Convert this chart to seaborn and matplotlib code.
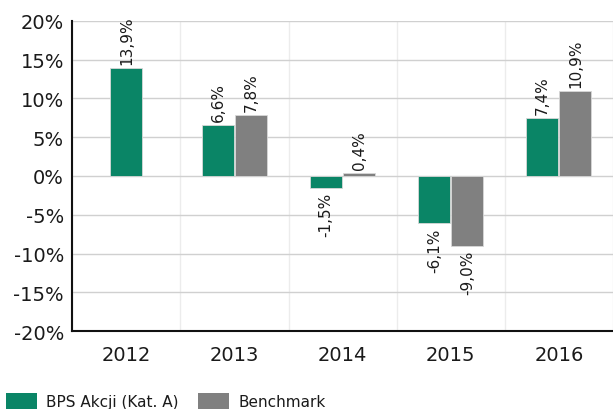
import numpy as np
import pandas as pd
import seaborn as sns
import matplotlib.pyplot as plt
from matplotlib.ticker import FuncFormatter, FixedLocator
from matplotlib.patches import Patch

years = ["2012", "2013", "2014", "2015", "2016"]
fund = [13.9, 6.6, -1.5, -6.1, 7.4]
bench = [np.nan, 7.8, 0.4, -9.0, 10.9]
series = ["BPS Akcji (Kat. A)", "Benchmark"]
colors = ["#0a8566", "#808080"]

df = pd.DataFrame({
    "rok": years * 2,
    "seria": [series[0]] * 5 + [series[1]] * 5,
    "wartosc": fund + bench,
})

sns.set_style("white")
plt.rcParams["font.family"] = ["DejaVu Sans"]
plt.rcParams["text.color"] = "#1a1a1a"
plt.rcParams["xtick.color"] = "#1a1a1a"
plt.rcParams["ytick.color"] = "#1a1a1a"

fig = plt.figure(figsize=(6.13, 4.10), dpi=100)
ax = fig.add_axes([0.118, 0.19, 0.882, 0.757])

sns.barplot(data=df, x="rok", y="wartosc", hue="seria", palette=colors,
            saturation=1, width=0.61, gap=0.03, ax=ax, legend=False,
            edgecolor="#d8d8d8", linewidth=0.6)

# 2012 has no benchmark -> center the single bar
for p in ax.patches:
    h = p.get_height()
    if np.isclose(h, fund[0]):
        p.set_x(0 - p.get_width() / 2)

for p in ax.patches:
    h = p.get_height()
    if np.isnan(h) or p.get_width() == 0:
        continue
    xc = p.get_x() + p.get_width() / 2
    txt = f"{h:.1f}%".replace(".", ",")
    if h >= 0:
        ax.annotate(txt, (xc, h), xytext=(0, 3), textcoords="offset points",
                    rotation=90, ha="center", va="bottom", fontsize=11)
    else:
        ax.annotate(txt, (xc, h), xytext=(0, -3), textcoords="offset points",
                    rotation=90, ha="center", va="top", fontsize=11)

ax.set_ylim(-20, 20)
ax.set_yticks(np.arange(-20, 21, 5))
ax.yaxis.set_major_formatter(FuncFormatter(lambda v, _: f"{v:.0f}%"))
ax.set_xlim(-0.5, 4.5)
ax.xaxis.set_minor_locator(FixedLocator(np.arange(-0.5, 4.6, 1)))
ax.tick_params(axis="x", which="major", length=0, labelsize=14, pad=10)
ax.tick_params(axis="x", which="minor", length=5, width=1, color="#444444")
ax.tick_params(axis="y", length=0, labelsize=14, pad=6)
ax.grid(axis="y", color="#d0d0d0", linewidth=1)
ax.grid(axis="x", which="minor", color="#ececec", linewidth=1)
ax.set_axisbelow(True)
ax.set_xlabel("")
ax.set_ylabel("")
for s in ["top", "right"]:
    ax.spines[s].set_visible(False)
for s in ["left", "bottom"]:
    ax.spines[s].set_color("#111111")
    ax.spines[s].set_linewidth(1.5)

handles = [Patch(facecolor=c, edgecolor="none") for c in colors]
fig.legend(handles, series, loc="lower left", bbox_to_anchor=(-0.012, -0.035),
           ncol=2, frameon=False, fontsize=11, handlelength=2.0,
           handleheight=1.3, columnspacing=1.3, handletextpad=0.6)

fig.savefig("out.png", dpi=100)
